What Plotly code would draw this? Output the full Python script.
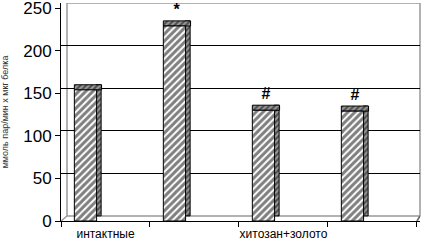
import plotly.graph_objects as go

# ---- data ----
positions = [0, 1, 2, 3]
values = [154, 229, 130, 129]
marks = ["", "*", "#", "#"]
tick_positions = [0, 2]
tick_labels = ["интактные", "хитозан+золото"]
y_ticks = [0, 50, 100, 150, 200, 250]
y_title = "ммоль пар/мин х мкг белка"

# ---- style constants ----
DEPTH = 6          # visual depth of the pseudo-3D bars (y units)
FRONT_W = 0.25
FRONT_OFF = -0.35
SIDE_W = 0.056

fig = go.Figure()

# side face
fig.add_trace(go.Bar(
    x=positions, y=values, base=[DEPTH] * len(values),
    width=SIDE_W, offset=FRONT_OFF + FRONT_W - 0.005,
    marker=dict(color="#888888", line=dict(color="black", width=1),
                pattern=dict(shape="/", fgcolor="black", bgcolor="#9a9a9a", size=4, solidity=0.5)),
    yaxis="y", showlegend=False, hoverinfo="skip"))

# top face
fig.add_trace(go.Bar(
    x=positions, y=[DEPTH] * len(values), base=values,
    width=FRONT_W + SIDE_W, offset=FRONT_OFF,
    marker=dict(color="#888888", line=dict(color="black", width=1),
                pattern=dict(shape="/", fgcolor="black", bgcolor="#9a9a9a", size=4, solidity=0.5)),
    text=marks, textposition="outside", constraintext="none", cliponaxis=False,
    textfont=dict(family="Liberation Sans, Arial", size=16, color="black", weight="bold"),
    yaxis="y", showlegend=False, hoverinfo="skip"))

# front face
fig.add_trace(go.Bar(
    x=positions, y=values,
    width=FRONT_W, offset=FRONT_OFF,
    marker=dict(color="white", line=dict(color="black", width=1),
                pattern=dict(shape="/", fgcolor="black", bgcolor="white", size=5, solidity=0.6)),
    yaxis="y", showlegend=False, hoverinfo="skip"))

# invisible trace to activate back-wall axis
fig.add_trace(go.Scatter(x=[positions[0]], y=[0], yaxis="y2", mode="markers",
                         marker=dict(opacity=0), showlegend=False, hoverinfo="skip"))

fig.update_layout(
    width=425, height=241,
    margin=dict(l=61, r=5, t=3, b=20),
    paper_bgcolor="white", plot_bgcolor="white",
    barmode="overlay",
    font=dict(family="Liberation Sans, Arial", color="black"),
    xaxis=dict(range=[-0.5, 3.534], tickvals=tick_positions, ticktext=tick_labels,
               ticks="", showgrid=False, zeroline=False, automargin=False,
               showline=True, linecolor="black", linewidth=1,
               tickfont=dict(size=12), ticklabelstandoff=2, ticklabeloverflow="allow",
               minor=dict(tickvals=[-0.5, 0.5, 1.5, 2.5, 3.5], ticks="outside",
                          ticklen=5, tickcolor="black", showgrid=False)),
    yaxis=dict(range=[0, 256], tickvals=y_ticks, ticks="outside", ticklen=5,
               tickcolor="black", showgrid=False, zeroline=False, automargin=False,
               showline=True, linecolor="black", linewidth=1,
               tickfont=dict(size=17), ticklabeloverflow="allow",
               title=dict(text=y_title, font=dict(size=9, color="#333333"), standoff=14)),
    yaxis2=dict(overlaying="y", range=[-5.9, 250], tickvals=y_ticks[1:-1],
                showticklabels=False, ticks="", showgrid=True, gridcolor="black",
                gridwidth=1, zeroline=False, showline=False, automargin=False),
    shapes=[
        dict(type="rect", xref="paper", yref="y2", x0=6 / 359, x1=1, y0=0, y1=250,
             line=dict(color="#999999", width=1.5), layer="below"),
        dict(type="line", xref="paper", yref="paper", x0=0, x1=6 / 359, y0=0, y1=5 / 218,
             line=dict(color="#999999", width=1.5), layer="below"),
        dict(type="line", xref="x", yref="paper", x0=3.5, x1=3.534, y0=0, y1=5 / 218,
             line=dict(color="#666666", width=1.5), layer="below"),
    ],
)

fig.write_html("out.html", config={"displayModeBar": False},
               post_script="document.body.style.margin='0';document.body.style.padding='0';")
